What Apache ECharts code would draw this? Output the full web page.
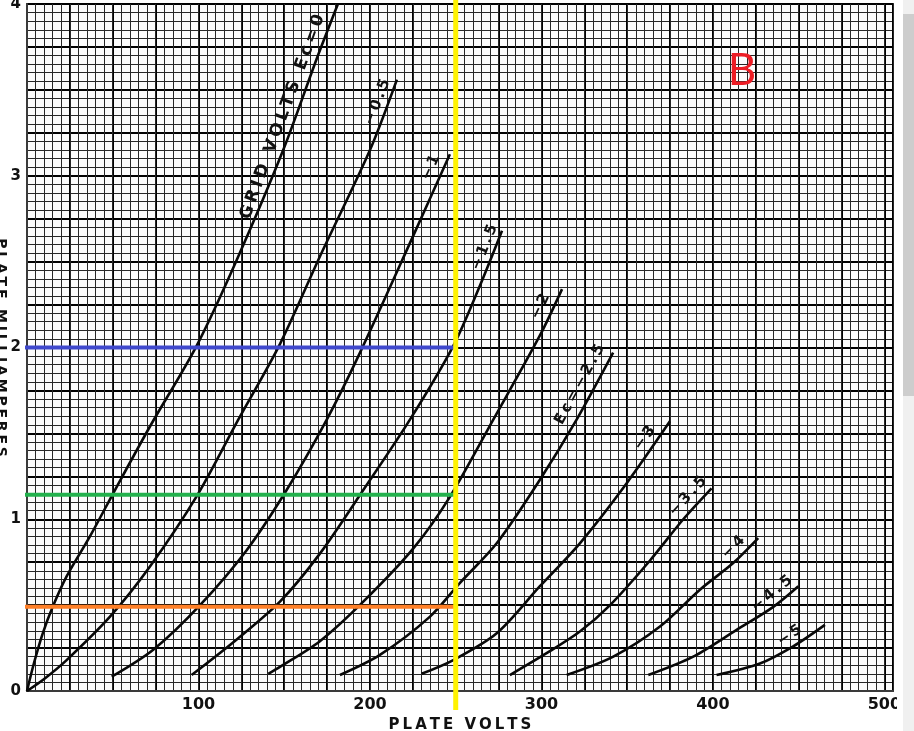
<!DOCTYPE html>
<html><head><meta charset="utf-8">
<script src="https://cdn.jsdelivr.net/npm/echarts@6/dist/echarts.min.js"></script>
<style>html,body{margin:0;padding:0;background:#fff;overflow:hidden}#c{width:914px;height:731px}</style>
</head><body><div id="c"></div><script>
// ---------- data (plate volts, plate milliamperes) ----------
const xTickLabels = [100, 200, 300, 400, 500];
const yTickLabels = [0, 1, 2, 3, 4];
const yAxisTitle = 'PLATE MILLIAMPERES';
const curveNames = ['GRID VOLTS Ec=0', '\u22120.5', '\u22121', '\u22121.5', '\u22122', 'Ec=\u22122.5', '\u22123', '\u22123.5', '\u22124', '\u22124.5', '\u22125'];
const ec0    = [[0,0],[4,0.16],[9,0.33],[15,0.49],[23.1,0.667],[36.7,0.9],[51.3,1.17],[71.7,1.54],[98.9,2.01],[122.3,2.51],[149.4,3.15],[168.9,3.68],[181.3,4.0]];
const ecm0_5 = [[0,0],[10,0.07],[23.1,0.18],[48.4,0.433],[71.7,0.725],[98.9,1.133],[123.2,1.58],[147.5,2.02],[170.8,2.53],[200,3.15],[215.7,3.56]];
const ecm1   = [[49.4,0.083],[73.6,0.24],[100.9,0.5],[128.1,0.82],[151.4,1.17],[174.8,1.58],[194.2,1.97],[225.2,2.65],[246.6,3.125]];
const ecm1_5 = [[96,0.093],[122.3,0.3],[147.5,0.52],[170.8,0.8],[196.1,1.17],[223.3,1.58],[248.6,2.01],[264.1,2.36],[277,2.68]];
const ecm2   = [[140.7,0.1],[147.5,0.14],[170.8,0.29],[196.1,0.52],[225.3,0.83],[246.6,1.13],[271.9,1.58],[299.1,2.07],[312,2.34]];
const ecm2_5 = [[182.5,0.093],[205.8,0.21],[235,0.433],[252.5,0.63],[273.9,0.86],[299.1,1.23],[320.5,1.58],[341.8,1.97]];
const ecm3   = [[230.1,0.1],[248.6,0.18],[273.9,0.336],[299.1,0.61],[322.4,0.86],[349.7,1.21],[374.9,1.57]];
const ecm3_5 = [[281.6,0.093],[303,0.22],[322.4,0.346],[340,0.5],[363.3,0.76],[382.7,1.0],[399.2,1.18]];
const ecm4   = [[314.7,0.093],[341.9,0.2],[369.1,0.375],[392.4,0.59],[411.8,0.745],[426.4,0.89]];
const ecm4_5 = [[362.3,0.093],[388.5,0.2],[413.8,0.356],[435.2,0.49],[449.8,0.61]];
const ecm5   = [[402.1,0.093],[427.4,0.16],[446.8,0.26],[465.3,0.385]];
const curves = [ec0, ecm0_5, ecm1, ecm1_5, ecm2, ecm2_5, ecm3, ecm3_5, ecm4, ecm4_5, ecm5];
// hand-drawn overlay lines
const yellowLine = [[250, -0.11], [250, 4.03]];
const blueLine   = [[-12.8, 2.0], [250, 2.0]];
const greenLine  = [[-15.7, 1.143], [250, 1.143]];
const orangeLine = [[-8, 0.49], [250, 0.49]];
const markB = [417, 3.61];

// ---------- styles ----------
const FONT = 'DejaVu Sans';
const labelStyle = [ // back distance along curve (px), perpendicular offset (px), font size
  [125, 12, 17], [28, 10, 15], [20, 12, 15], [22, 10, 15], [25, 12, 15], [44, 14, 15],
  [28, 11, 15], [22, 12, 15], [24, 11, 15], [25, 11, 15], [35, 11, 15]
];
const spread = s => s.split('').join('\u2009');

const chart = echarts.init(document.getElementById('c'), null, {renderer: 'canvas'});
const curveSeries = curves.map((d, i) => ({
  type: 'line', name: curveNames[i], data: d, showSymbol: false, smooth: 0.3,
  xAxisIndex: 0, yAxisIndex: 0, silent: true, z: 3,
  lineStyle: {color: '#080808', width: 2.6}
}));
const overlay = (d, color, w) => ({
  type: 'line', data: d, showSymbol: false, clip: false, silent: true, z: 5,
  xAxisIndex: 0, yAxisIndex: 0, lineStyle: {color: color, width: w}
});

chart.setOption({
  animation: false,
  backgroundColor: '#ffffff',
  grid: {left: 27, right: 21, top: 4, bottom: 40, outerBoundsMode: 'none', containLabel: false,
         show: true, borderColor: '#3a3a3a', borderWidth: 2, backgroundColor: '#fbfbfb'},
  xAxis: [
    {type: 'value', min: 0, max: 505, interval: 25, position: 'bottom',
     axisLine: {show: true, onZero: false, lineStyle: {color: '#3a3a3a', width: 2}},
     axisTick: {show: false},
     axisLabel: {formatter: v => (v > 0 && xTickLabels.indexOf(v) >= 0) ? String(v) : '', color: '#111', fontFamily: FONT, fontWeight: 'bold', fontSize: 16, margin: 6},
     splitLine: {show: true, lineStyle: {color: '#000', width: 2}},
     name: spread('PLATE VOLTS'), nameLocation: 'middle', nameGap: 26,
     nameTextStyle: {color: '#111', fontFamily: FONT, fontWeight: 'bold', fontSize: 15}},
    {type: 'value', min: 0, max: 505, interval: 5, position: 'bottom',
     axisLine: {show: false}, axisTick: {show: false}, axisLabel: {show: false},
     splitLine: {show: true, lineStyle: {color: '#262626', width: 1}}}
  ],
  yAxis: [{
    type: 'value', min: 0, max: 4, interval: 0.25,
    axisLine: {show: true, lineStyle: {color: '#3a3a3a', width: 2}},
    axisTick: {show: false},
    axisLabel: {formatter: v => yTickLabels.indexOf(v) >= 0 ? String(v) : '', color: '#111', fontFamily: FONT, fontWeight: 'bold', fontSize: 15, margin: 6},
    splitLine: {show: true, lineStyle: {color: '#000', width: 2}},
    minorTick: {show: false, splitNumber: 5},
    minorSplitLine: {show: true, lineStyle: {color: '#262626', width: 1}}
  }],
  series: curveSeries.concat([
    overlay(blueLine, '#3f48cc', 4),
    overlay(greenLine, '#22b14c', 4),
    overlay(orangeLine, '#ff7f27', 4),
    overlay(yellowLine, '#fff200', 5)
  ])
});

// curve labels placed along each curve near its upper end
function labelFor(i) {
  const pts = curves[i].map(p => chart.convertToPixel({gridIndex: 0}, p));
  const [back, off, size] = labelStyle[i];
  let remain = back, k = pts.length - 1, px = pts[k][0], py = pts[k][1], dx = 1, dy = -1;
  while (k > 0) {
    const a = pts[k - 1], b = pts[k];
    const seg = Math.hypot(b[0] - a[0], b[1] - a[1]);
    dx = (b[0] - a[0]) / seg; dy = (b[1] - a[1]) / seg;
    if (seg >= remain) { px = b[0] - dx * remain; py = b[1] - dy * remain; break; }
    remain -= seg; k--;
  }
  const ang = Math.atan2(-dy, dx);
  const nx = -Math.sin(ang), ny = -Math.cos(ang);
  return {
    type: 'text', x: px + nx * off, y: py + ny * off, rotation: ang, z: 10, silent: true,
    style: {text: spread(curveNames[i]), fill: '#111', font: 'bold ' + size + 'px "' + FONT + '"', align: 'center', verticalAlign: 'middle'}
  };
}
const g = curves.map((_, i) => labelFor(i));
const bp = chart.convertToPixel({gridIndex: 0}, markB);
g.push({type: 'text', x: bp[0], y: bp[1], z: 10, silent: true,
  style: {text: 'B', fill: '#ed1c24', font: '44px Lato', align: 'center', verticalAlign: 'middle'}});
// y-axis title, mostly cut off at the left page edge (reads top to bottom)
const yMid = chart.convertToPixel({gridIndex: 0}, [0, 2])[1];
g.push({type: 'text', x: 1, y: yMid, rotation: -Math.PI / 2, z: 10, silent: true,
  style: {text: spread(yAxisTitle), fill: '#111', font: 'bold 14px "' + FONT + '"', align: 'center', verticalAlign: 'middle'}});
// page edge / scrollbar strip of the screenshot
g.push({type: 'rect', right: 11, top: 0, z: 20, shape: {width: 6, height: 731}, style: {fill: '#ffffff'}});
g.push({type: 'rect', right: 0, top: 0, z: 20, shape: {width: 11, height: 731}, style: {fill: '#f0f0f0'}});
g.push({type: 'rect', right: 0, top: 14, z: 21, shape: {width: 11, height: 382}, style: {fill: '#cdcdcd'}});
chart.setOption({graphic: g});
</script></body></html>
